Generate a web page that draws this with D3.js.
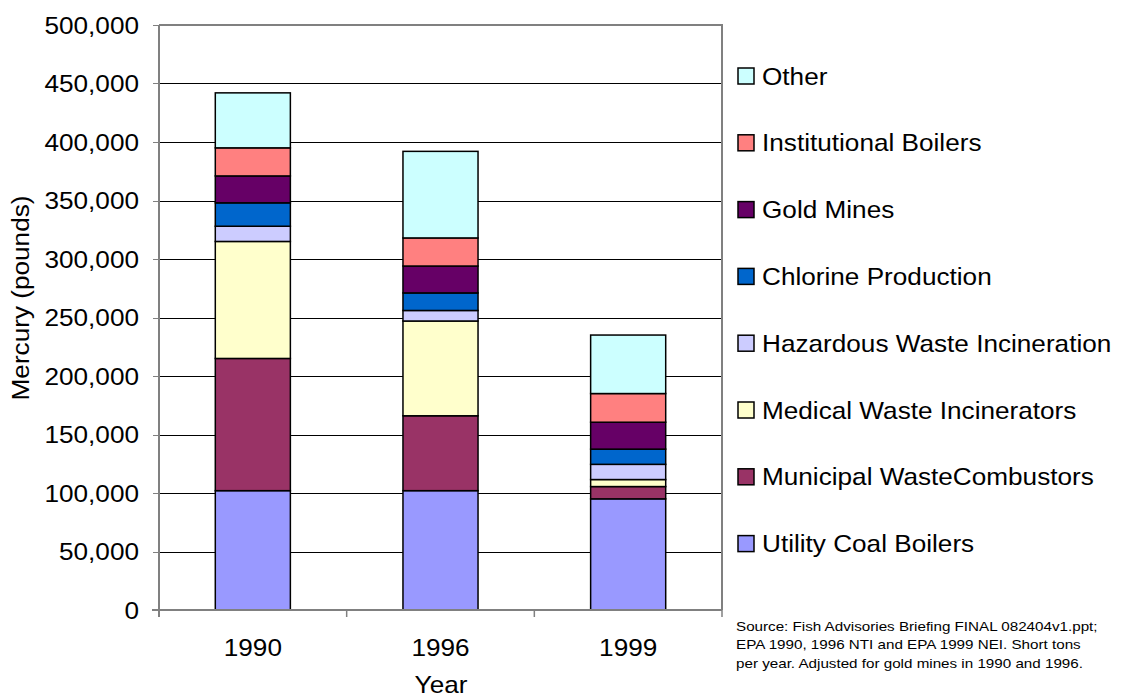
<!DOCTYPE html>
<html>
<head>
<meta charset="utf-8">
<script src="https://cdn.jsdelivr.net/npm/d3@7"></script>
<style>
  html, body { margin: 0; padding: 0; background: #fff; }
  svg { display: block; font-family: "Liberation Sans", Arial, sans-serif; }
</style>
</head>
<body>
<svg id="chart" width="1124" height="700"></svg>
<script>
// ---- Data (pounds of mercury) ----
const years = ["1990", "1996", "1999"];
const seriesNames = [
  "Utility Coal Boilers",
  "Municipal WasteCombustors",
  "Medical Waste Incinerators",
  "Hazardous Waste Incineration",
  "Chlorine Production",
  "Gold Mines",
  "Institutional Boilers",
  "Other"
];
const utilityCoalBoilers      = [102000, 102000, 95000];
const municipalWasteCombustors = [113000, 64000, 10500];
const medicalWasteIncinerators = [100000, 81000, 6000];
const hazardousWasteIncineration = [13000, 9000, 13000];
const chlorineProduction      = [20000, 15000, 13000];
const goldMines               = [23000, 23000, 23000];
const institutionalBoilers    = [24000, 24000, 24500];
const other                   = [47000, 74000, 50000];
const yTicks = [0, 50000, 100000, 150000, 200000, 250000, 300000, 350000, 400000, 450000, 500000];
const seriesColors = ["#9999FF", "#993366", "#FFFFCC", "#CCCCFF", "#0066CC", "#660066", "#FF8080", "#CCFFFF"];
const sourceLines = [
  "Source: Fish Advisories Briefing FINAL 082404v1.ppt;",
  "EPA 1990, 1996 NTI and EPA 1999 NEI. Short tons",
  "per year. Adjusted for gold mines in 1990 and 1996."
];

const seriesValues = [
  utilityCoalBoilers, municipalWasteCombustors, medicalWasteIncinerators,
  hazardousWasteIncineration, chlorineProduction, goldMines,
  institutionalBoilers, other
];

// table for stacking
const table = years.map((yr, i) => {
  const row = { year: yr };
  seriesNames.forEach((s, k) => { row[s] = seriesValues[k][i]; });
  return row;
});

const svg = d3.select("#chart");
const plot = { left: 159, right: 722, top: 25, bottom: 610 };
const SX = 1.09; // horizontal text stretch as in reference
const FONT = 24;

const x = d3.scaleBand().domain(years)
  .range([plot.left, plot.right]).paddingInner(0.6).paddingOuter(0.3);
const y = d3.scaleLinear().domain([0, 500000]).range([plot.bottom, plot.top]);

function addText(g, px, py, str, size, anchor, rotate, sx) {
  const s = sx || SX;
  return g.append("text")
    .attr("transform", `translate(${px},${py})` + (rotate ? ` rotate(${rotate})` : "") + ` scale(${s},1)`)
    .attr("font-size", size)
    .attr("text-anchor", anchor || "start")
    .attr("fill", "#000")
    .text(str);
}

// gridlines
svg.append("g").selectAll("line").data(yTicks.filter(v => v > 0 && v < 500000)).join("line")
  .attr("x1", plot.left).attr("x2", plot.right)
  .attr("y1", d => Math.round(y(d)) + 0.5).attr("y2", d => Math.round(y(d)) + 0.5)
  .attr("stroke", "#000").attr("stroke-width", 1);

// frame (top & right border)
svg.append("path")
  .attr("d", `M${plot.left},${plot.top}H${plot.right}V${plot.bottom}`)
  .attr("fill", "none").attr("stroke", "#808080").attr("stroke-width", 2);

// stacked bars
const stack = d3.stack().keys(seriesNames);
const layers = stack(table);
const gBars = svg.append("g");
layers.forEach((layer, k) => {
  gBars.append("g").selectAll("rect").data(layer).join("rect")
    .attr("x", d => x(d.data.year))
    .attr("width", x.bandwidth())
    .attr("y", d => y(d[1]))
    .attr("height", d => y(d[0]) - y(d[1]))
    .attr("fill", seriesColors[k])
    .attr("stroke", "#000").attr("stroke-width", 1.5);
});

// axes lines
svg.append("line").attr("x1", plot.left).attr("x2", plot.left)
  .attr("y1", plot.top).attr("y2", plot.bottom + 7)
  .attr("stroke", "#808080").attr("stroke-width", 2);
svg.append("line").attr("x1", plot.left - 7).attr("x2", plot.right)
  .attr("y1", plot.bottom).attr("y2", plot.bottom)
  .attr("stroke", "#808080").attr("stroke-width", 2);

// y ticks & labels
const gY = svg.append("g");
yTicks.forEach(v => {
  const yy = Math.round(y(v)) + 0.5;
  gY.append("line").attr("x1", plot.left - 6).attr("x2", plot.left)
    .attr("y1", yy).attr("y2", yy).attr("stroke", "#808080").attr("stroke-width", 1);
  addText(gY, plot.left - 20, y(v) + 8.5, d3.format(",")(v), FONT, "end");
});

// x ticks (band boundaries) & labels
const step = x.step();
const boundaries = years.map(yr => x(yr) - x.paddingOuter() * step).concat([plot.right]);
const gX = svg.append("g");
boundaries.forEach(bx => {
  gX.append("line").attr("x1", bx).attr("x2", bx)
    .attr("y1", plot.bottom).attr("y2", plot.bottom + 7)
    .attr("stroke", "#808080").attr("stroke-width", 1.5);
});
years.forEach(yr => {
  addText(gX, x(yr) + x.bandwidth() / 2, 656, yr, FONT, "middle");
});

// axis titles
addText(svg, 441, 693, "Year", FONT, "middle");
addText(svg, 29, 298, "Mercury (pounds)", FONT, "middle", -90);

// legend (top to bottom: reversed series order)
const gL = svg.append("g");
const legendOrder = seriesNames.map((s, k) => k).reverse();
legendOrder.forEach((k, i) => {
  const cy = 76 + i * 66.8;
  gL.append("rect").attr("x", 738).attr("y", cy - 8).attr("width", 16).attr("height", 16)
    .attr("fill", seriesColors[k]).attr("stroke", "#000").attr("stroke-width", 1.5);
  addText(gL, 762, cy + 8.5, seriesNames[k], FONT, "start");
});

// source note
const gS = svg.append("g");
sourceLines.forEach((line, i) => {
  addText(gS, 736, 631 + i * 18.3, line, 13, "start", 0, 1.17);
});
</script>
</body>
</html>
